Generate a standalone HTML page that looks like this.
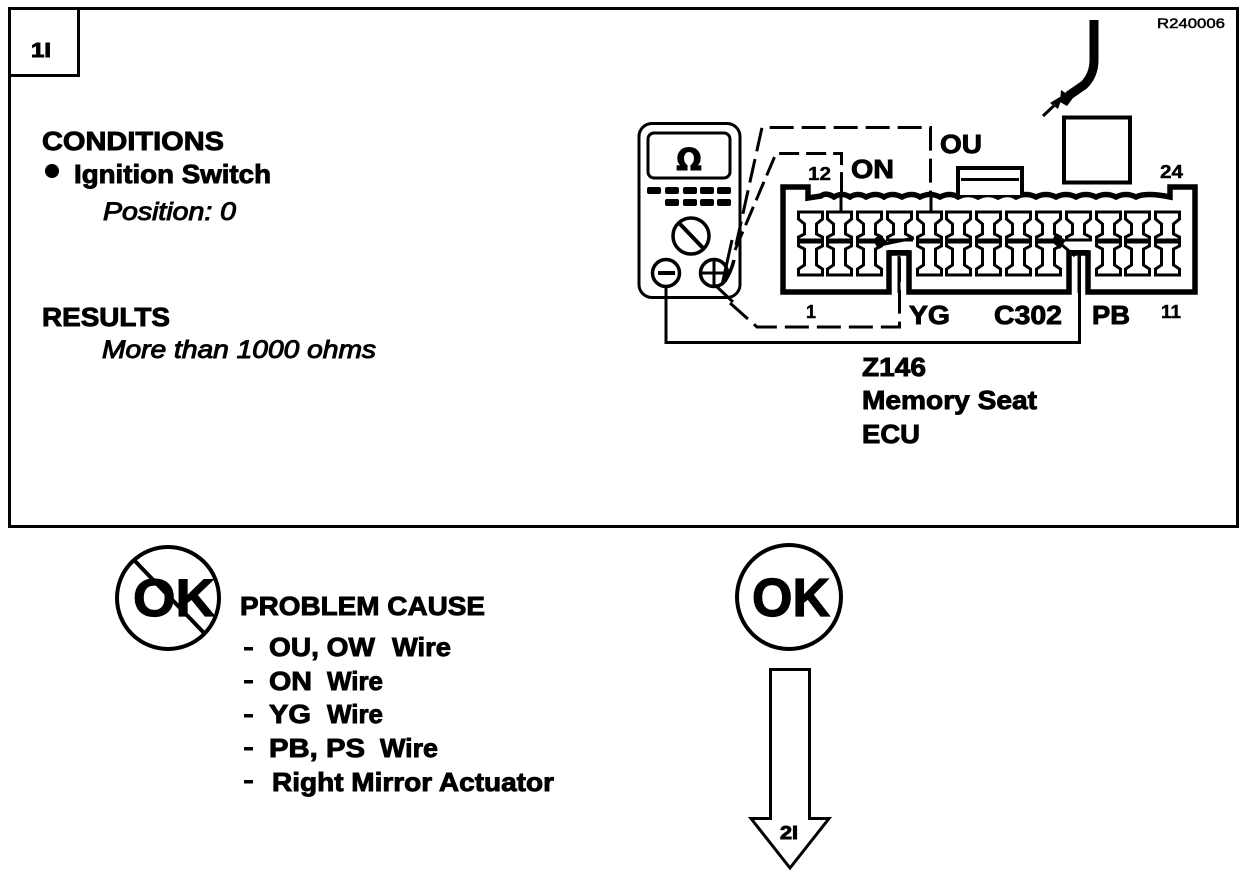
<!DOCTYPE html>
<html><head><meta charset="utf-8"><style>
html,body{margin:0;padding:0;background:#fff;width:1248px;height:876px;overflow:hidden}
svg{display:block}
text{font-family:"Liberation Sans",sans-serif;font-weight:bold;fill:#000;stroke:#000;stroke-width:.9}
</style></head><body>
<svg width="1248" height="876" viewBox="0 0 1248 876" xmlns="http://www.w3.org/2000/svg">
<defs>
<path id="t" d="M1.500 1H25.500V8L19.500 13V23L25.500 26V29H1.500V26L7.500 23V13L1.500 8Z" fill="#fff" stroke="#000" stroke-width="3"/>
<path id="b" d="M1.500 1H25.500V5L19.500 8V24L25.500 28V34H1.500V28L7.500 24V8L1.500 5Z" fill="#fff" stroke="#000" stroke-width="3"/>
</defs>
<rect x="9.500" y="8.500" width="1228" height="518" fill="none" stroke="#000" stroke-width="3"/>
<rect x="9.500" y="8.500" width="69" height="67" fill="none" stroke="#000" stroke-width="3"/>
<text x="31" y="57" font-size="20" textLength="20" lengthAdjust="spacingAndGlyphs">1I</text>
<text x="1157" y="28" font-size="14" textLength="68" lengthAdjust="spacingAndGlyphs" style="font-weight:normal;stroke-width:.5">R240006</text>

<text x="42" y="150" font-size="26" textLength="182" lengthAdjust="spacingAndGlyphs">CONDITIONS</text>
<circle cx="52" cy="171" r="7"/>
<text x="74" y="183" font-size="26" textLength="197" lengthAdjust="spacingAndGlyphs">Ignition Switch</text>
<text x="103" y="220" font-size="25" font-style="italic" textLength="133" lengthAdjust="spacingAndGlyphs" style="font-weight:normal;stroke-width:1">Position: 0</text>
<text x="42" y="326" font-size="26" textLength="128" lengthAdjust="spacingAndGlyphs">RESULTS</text>
<text x="102" y="358" font-size="25" font-style="italic" textLength="274" lengthAdjust="spacingAndGlyphs" style="font-weight:normal;stroke-width:1">More than 1000 ohms</text>

<!-- meter -->
<rect x="639" y="123.500" width="101" height="174" rx="13" fill="#fff" stroke="#000" stroke-width="3"/>
<rect x="648" y="133" width="82" height="45" rx="6" fill="#fff" stroke="#000" stroke-width="3"/>
<text x="689" y="170" font-size="30" text-anchor="middle" style="font-family:'DejaVu Sans',sans-serif">Ω</text>
<g fill="#000">
<rect x="647" y="187" width="14" height="7" rx="2"/><rect x="665" y="187" width="14" height="7" rx="2"/><rect x="683" y="187" width="14" height="7" rx="2"/><rect x="700" y="187" width="14" height="7" rx="2"/><rect x="717" y="187" width="14" height="7" rx="2"/>
<rect x="665" y="199" width="14" height="7" rx="2"/><rect x="683" y="199" width="14" height="7" rx="2"/><rect x="700" y="199" width="14" height="7" rx="2"/><rect x="717" y="199" width="14" height="7" rx="2"/>
</g>
<circle cx="691" cy="236" r="18" fill="#fff" stroke="#000" stroke-width="3.500"/>
<line x1="680" y1="224" x2="703" y2="248" stroke="#000" stroke-width="4"/>
<circle cx="666" cy="273" r="13.500" fill="#fff" stroke="#000" stroke-width="3.500"/>
<line x1="658" y1="273" x2="675" y2="273" stroke="#000" stroke-width="4"/>
<circle cx="714" cy="273" r="13.500" fill="#fff" stroke="#000" stroke-width="3.500"/>
<path d="M714 260V287M701 273H728" stroke="#000" stroke-width="3" fill="none"/>
<path d="M722 285L732 240M715 285L733 302" stroke="#000" stroke-width="3" fill="none"/>
<path d="M725 281Q731 272 734 260" stroke="#000" stroke-width="3.500" fill="none"/>

<!-- dashed wires -->
<path d="M736 245L762 127.500H930.500V193" fill="none" stroke="#000" stroke-width="3" stroke-dasharray="24 8"/>
<path d="M735 250L776 153.500H841.500V193" fill="none" stroke="#000" stroke-width="3" stroke-dasharray="20 7"/>
<path d="M730 303L757 327H899.500V258" fill="none" stroke="#000" stroke-width="3" stroke-dasharray="24 8"/>
<path d="M666 287V342.500H1079.500V255" fill="none" stroke="#000" stroke-width="3"/>

<!-- connector -->
<path d="M783 187H808V198L821 196Q826 192 834 197Q842 192 850 197Q858 192 866 197Q876 192 884 197Q892 192 902 197Q912 192 920 197Q930 192 940 197Q950 192 958 197Q968 192 978 197Q988 192 998 197Q1008 192 1016 197Q1026 192 1036 197Q1046 192 1056 197Q1066 192 1076 197Q1086 192 1096 197Q1106 192 1116 197Q1126 192 1136 197Q1146 192 1170 197V187H1195V292H1088V253H1069V292H909V253H889V292H783Z" fill="#fff" stroke="#000" stroke-width="5.500"/>
<path d="M958 195V168H1022V195" fill="#fff" stroke="#000" stroke-width="4"/>
<rect x="961" y="178" width="58" height="3" fill="#000"/>
<rect x="1064" y="117.500" width="66" height="65" fill="#fff" stroke="#000" stroke-width="4"/>

<use href="#t" x="797" y="211"/><use href="#t" x="826" y="211"/><use href="#t" x="856" y="211"/><use href="#t" x="886" y="211"/><use href="#t" x="916" y="211"/><use href="#t" x="945" y="211"/><use href="#t" x="975" y="211"/><use href="#t" x="1005" y="211"/><use href="#t" x="1035" y="211"/><use href="#t" x="1065" y="211"/><use href="#t" x="1095" y="211"/><use href="#t" x="1124" y="211"/><use href="#t" x="1154" y="211"/>
<use href="#b" x="797" y="241"/><use href="#b" x="826" y="241"/><use href="#b" x="856" y="241"/><use href="#b" x="916" y="241"/><use href="#b" x="945" y="241"/><use href="#b" x="975" y="241"/><use href="#b" x="1005" y="241"/><use href="#b" x="1035" y="241"/><use href="#b" x="1095" y="241"/><use href="#b" x="1124" y="241"/><use href="#b" x="1154" y="241"/>
<path d="M841 196V211M931 196V211" stroke="#000" stroke-width="3"/>
<path d="M880 234L888 243L878 249L873 240Z M1055 234L1066 240L1060 249L1052 242Z" fill="#000"/>
<path d="M880 245L914 238M1062 245L1075 256" stroke="#000" stroke-width="3"/>
<path d="M899 256V293M1079 256V293" stroke="#000" stroke-width="3"/>
<rect x="888" y="250" width="22" height="4" fill="#000"/>
<rect x="1068" y="250" width="21" height="4" fill="#000"/>

<!-- probe -->
<path d="M1094 20V60Q1094 75 1084 85L1068 96" fill="none" stroke="#000" stroke-width="9"/>
<path d="M1061 90L1073 98L1067 106L1060 102Z" fill="#000"/>
<path d="M1043 116L1060 100" stroke="#000" stroke-width="3"/>
<path d="M1063 95L1050 103L1058 109Z" fill="#000"/>

<!-- labels -->
<text x="940" y="153" font-size="26" textLength="42" lengthAdjust="spacingAndGlyphs">OU</text>
<text x="851" y="178" font-size="26" textLength="43" lengthAdjust="spacingAndGlyphs">ON</text>
<text x="808" y="180" font-size="18" textLength="23" lengthAdjust="spacingAndGlyphs" style="stroke-width:.4">12</text>
<text x="1160" y="178" font-size="18" textLength="23" lengthAdjust="spacingAndGlyphs" style="stroke-width:.4">24</text>
<text x="806" y="318" font-size="18" textLength="10" lengthAdjust="spacingAndGlyphs" style="stroke-width:.4">1</text>
<text x="1161" y="318" font-size="18" textLength="20" lengthAdjust="spacingAndGlyphs" style="stroke-width:.4">11</text>
<text x="909" y="324" font-size="26" textLength="41" lengthAdjust="spacingAndGlyphs">YG</text>
<text x="994" y="324" font-size="26" textLength="68" lengthAdjust="spacingAndGlyphs">C302</text>
<text x="1092" y="324" font-size="26" textLength="38" lengthAdjust="spacingAndGlyphs">PB</text>
<text x="862" y="376" font-size="26" textLength="64" lengthAdjust="spacingAndGlyphs">Z146</text>
<text x="862" y="409" font-size="26" textLength="175" lengthAdjust="spacingAndGlyphs">Memory Seat</text>
<text x="862" y="443" font-size="26" textLength="58" lengthAdjust="spacingAndGlyphs">ECU</text>

<!-- not OK -->
<circle cx="168" cy="598" r="51" fill="none" stroke="#000" stroke-width="4"/>
<line x1="134" y1="560" x2="205" y2="634" stroke="#000" stroke-width="4"/>
<text x="133" y="616" font-size="53" textLength="82" lengthAdjust="spacingAndGlyphs" style="stroke-width:1.2">OK</text>
<text x="240" y="615" font-size="26" textLength="245" lengthAdjust="spacingAndGlyphs">PROBLEM CAUSE</text>
<rect x="244" y="647" width="9" height="3.500"/>
<text x="269" y="656" font-size="26" textLength="106" lengthAdjust="spacingAndGlyphs">OU, OW</text>
<text x="392" y="656" font-size="26" textLength="59" lengthAdjust="spacingAndGlyphs">Wire</text>
<rect x="244" y="680" width="9" height="3.500"/>
<text x="269" y="690" font-size="26" textLength="43" lengthAdjust="spacingAndGlyphs">ON</text>
<text x="327" y="690" font-size="26" textLength="56" lengthAdjust="spacingAndGlyphs">Wire</text>
<rect x="244" y="714" width="9" height="3.500"/>
<text x="269" y="723" font-size="26" textLength="42" lengthAdjust="spacingAndGlyphs">YG</text>
<text x="327" y="723" font-size="26" textLength="56" lengthAdjust="spacingAndGlyphs">Wire</text>
<rect x="244" y="747" width="9" height="3.500"/>
<text x="269" y="757" font-size="26" textLength="96" lengthAdjust="spacingAndGlyphs">PB, PS</text>
<text x="380" y="757" font-size="26" textLength="58" lengthAdjust="spacingAndGlyphs">Wire</text>
<rect x="244" y="780" width="9" height="3.500"/>
<text x="272" y="791" font-size="26" textLength="282" lengthAdjust="spacingAndGlyphs">Right Mirror Actuator</text>

<!-- OK -->
<circle cx="789" cy="597" r="52" fill="none" stroke="#000" stroke-width="4"/>
<text x="791" y="616" font-size="54" text-anchor="middle" textLength="78" lengthAdjust="spacingAndGlyphs" style="stroke-width:1.2">OK</text>
<path d="M770.500 669.500H809.500V818.500H829L790 868L751 818.500H770.500Z" fill="#fff" stroke="#000" stroke-width="3"/>
<text x="780" y="839" font-size="18" textLength="18" lengthAdjust="spacingAndGlyphs">2I</text>
</svg>
</body></html>
